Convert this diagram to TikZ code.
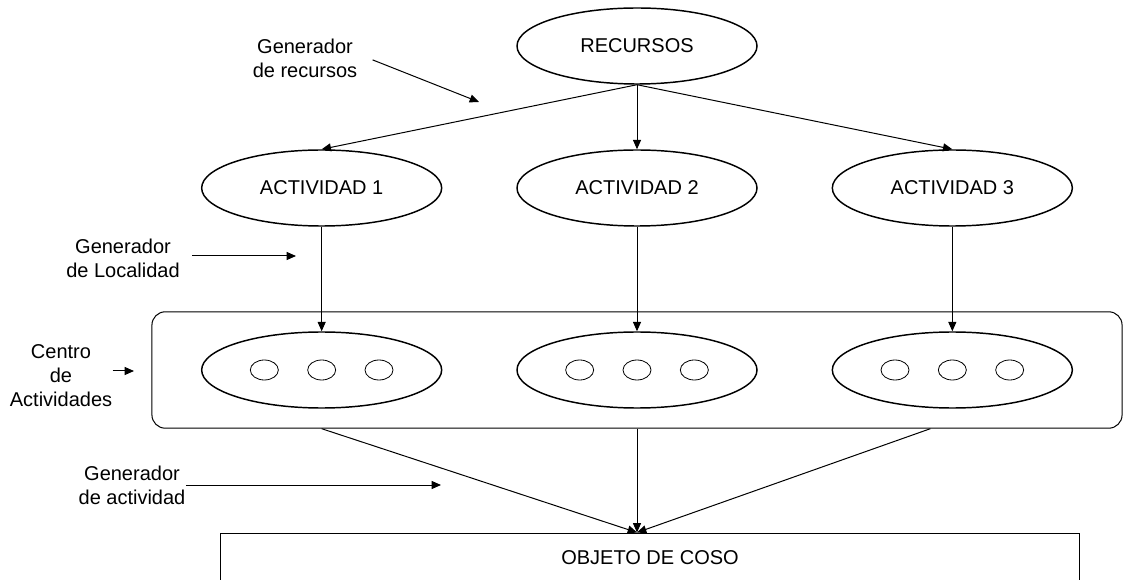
\documentclass[tikz,border=0pt]{standalone}
\usepackage{fontspec}
\setmainfont{Liberation Sans}
\usetikzlibrary{fit,shapes,positioning}
\usetikzlibrary{arrows.meta}

\begin{document}
\begin{tikzpicture}[%
    >={Triangle[length=7pt,width=6pt]}, % filled arrow heads
    x=0.75pt, y=-0.75pt,               % pixel grid, y grows downwards
    node distance=106.5pt and 236.5pt, % rows and columns of the ovals
    line width=0.75pt,                 % default line
    font=\fontsize{15}{18}\selectfont,
    ]
\tikzset{
  base/.style={draw, on grid, align=center},
  oval/.style={base, ellipse, line width=1.1pt, minimum width=180pt, minimum height=57pt},
  dot/.style={base, ellipse, line width=0.6pt, inner sep=0pt, minimum width=21pt, minimum height=15pt, node distance=43pt},
  note/.style={align=center, inner sep=0pt},
  group/.style={draw, rounded corners=10pt, inner xsep=36.75pt, inner ysep=14.6pt},
}

\useasboundingbox (0,0) rectangle (1134,580);

\node [oval] (rec) at (637,46) {RECURSOS};
\node [oval,below=of rec] (a2) {ACTIVIDAD 2};
\node [oval,left=of a2] (a1) {ACTIVIDAD 1};
\node [oval,right=of a2] (a3) {ACTIVIDAD 3};

\node [oval,below=136.5pt of a1] (c1) {};
\node [oval,below=136.5pt of a2] (c2) {};
\node [oval,below=136.5pt of a3] (c3) {};

\node [dot] (c1b) at (c1) {};
\node [dot,left=of c1b] (c1a) {};
\node [dot,right=of c1b] (c1c) {};
\node [dot] (c2b) at (c2) {};
\node [dot,left=of c2b] (c2a) {};
\node [dot,right=of c2b] (c2c) {};
\node [dot] (c3b) at (c3) {};
\node [dot,left=of c3b] (c3a) {};
\node [dot,right=of c3b] (c3c) {};

\node [group,fit=(c1)(c3)] (centro) {};

\node [draw,minimum width=644.25pt,minimum height=37.5pt] (obj) at (650,558) {OBJETO DE COSO};

\node [note] (gr) at (305,58) {Generador\\de recursos};
\node [note] (gl) at (123,258) {Generador\\de Localidad};
\node [note] (ca) at (61,376) {Centro\\de\\Actividades};
\node [note] (ga) at (132,485) {Generador\\de actividad};

\coordinate (gr-tip) at (479,102);
\coordinate (gl-tip) at (296,256);
\coordinate (ca-tip) at (134,371);
\coordinate (ga-tip) at (441,485);
\path (c3 |- centro.south) ++(-22,0) coordinate (o3);

% connect
\draw [->] (rec.south) -- (a1.north);
\draw [->] (rec.south) -- (a2.north);
\draw [->] (rec.south) -- (a3.north);

\draw [->] (a1.south) -- (c1.north);
\draw [->] (a2.south) -- (c2.north);
\draw [->] (a3.south) -- (c3.north);

\draw [->] (c1 |- centro.south) -- (c2 |- obj.north);
\draw [->] (c2 |- centro.south) -- (c2 |- obj.north);
\draw [->] (o3) -- (c2 |- obj.north);

% side notes
\draw [->,shorten <=12pt] ([yshift=3pt]gr.east) -- (gr-tip);
\draw [->,shorten <=9pt] ([yshift=1.5pt]gl.east) -- (gl-tip);
\draw [->] ([yshift=3.75pt]ca.east) -- (ca-tip);
\draw [->] (ga.east) -- (ga-tip);

\end{tikzpicture}
\end{document}
